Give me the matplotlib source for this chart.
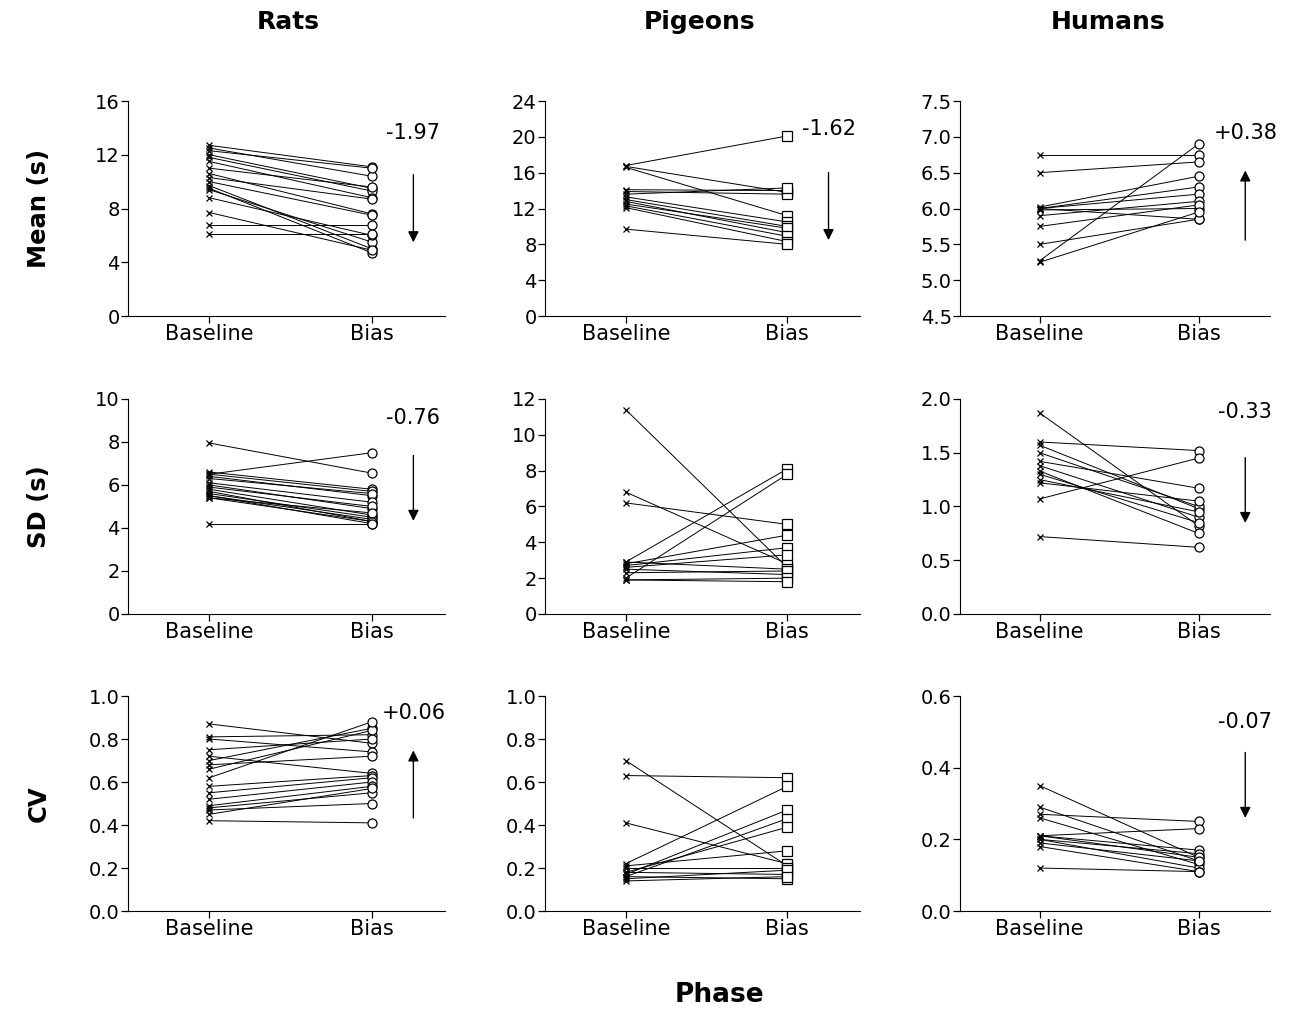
import matplotlib
matplotlib.use("Agg")
import matplotlib.pyplot as plt
import numpy as np

phases = ["Baseline", "Bias"]
species = ["Rats", "Pigeons", "Humans"]
measures = ["Mean (s)", "SD (s)", "CV"]

# Rats
rats_mean_base = [12.7, 12.5, 12.3, 12.0, 11.8, 11.5, 11.0, 10.6, 10.3, 10.0, 9.7, 9.5, 9.4, 8.8, 7.7, 6.8, 6.1]
rats_mean_bias = [11.1, 10.4, 11.0, 9.5, 9.3, 8.8, 9.6, 7.6, 8.7, 7.5, 5.0, 4.7, 5.5, 6.0, 4.9, 6.8, 6.1]
rats_sd_base = [7.95, 6.5, 6.6, 6.5, 6.4, 6.3, 6.1, 6.0, 5.9, 5.8, 5.7, 5.6, 5.5, 5.5, 5.4, 5.4, 4.2]
rats_sd_bias = [6.55, 7.5, 5.8, 5.7, 5.5, 5.6, 5.2, 4.9, 5.0, 4.6, 4.3, 4.5, 4.2, 4.4, 4.7, 4.3, 4.2]
rats_cv_base = [0.87, 0.81, 0.80, 0.75, 0.72, 0.70, 0.68, 0.66, 0.62, 0.58, 0.55, 0.52, 0.49, 0.48, 0.47, 0.45, 0.42]
rats_cv_bias = [0.78, 0.82, 0.74, 0.80, 0.64, 0.85, 0.72, 0.84, 0.88, 0.63, 0.62, 0.60, 0.58, 0.55, 0.50, 0.57, 0.41]

# Pigeons
pig_mean_base = [16.8, 16.7, 16.6, 14.1, 13.9, 13.6, 13.3, 13.0, 12.8, 12.5, 12.3, 12.1, 9.7]
pig_mean_bias = [20.1, 13.8, 11.2, 14.0, 13.6, 14.3, 10.5, 10.0, 9.3, 9.8, 8.9, 8.3, 8.0]
pig_sd_base = [11.4, 6.8, 6.2, 2.9, 2.0, 2.8, 2.7, 2.6, 2.9, 2.5, 2.3, 1.9, 1.9]
pig_sd_bias = [2.6, 2.8, 5.0, 8.1, 7.8, 4.4, 3.7, 3.3, 2.5, 2.2, 2.4, 2.0, 1.8]
pig_cv_base = [0.70, 0.63, 0.41, 0.22, 0.17, 0.16, 0.18, 0.21, 0.20, 0.18, 0.15, 0.16, 0.14]
pig_cv_bias = [0.21, 0.62, 0.22, 0.58, 0.47, 0.43, 0.39, 0.28, 0.20, 0.17, 0.19, 0.15, 0.16]

# Humans
hum_mean_base = [6.75, 6.5, 6.02, 6.0, 6.0, 5.98, 6.0, 5.9, 5.75, 5.5, 5.27, 5.25]
hum_mean_bias = [6.75, 6.65, 6.45, 6.3, 6.2, 6.0, 5.85, 6.1, 6.05, 5.85, 6.9, 5.95]
hum_sd_base = [1.87, 1.6, 1.57, 1.5, 1.42, 1.38, 1.33, 1.3, 1.25, 1.22, 1.07, 0.72]
hum_sd_bias = [0.82, 1.52, 0.98, 1.0, 1.17, 0.9, 0.75, 0.85, 0.95, 1.05, 1.45, 0.62]
hum_cv_base = [0.35, 0.29, 0.27, 0.26, 0.21, 0.21, 0.20, 0.21, 0.20, 0.19, 0.18, 0.12]
hum_cv_bias = [0.15, 0.14, 0.25, 0.13, 0.23, 0.17, 0.16, 0.15, 0.12, 0.14, 0.11, 0.11]

changes = {
    (0, 0): "-1.97", (0, 1): "-1.62", (0, 2): "+0.38",
    (1, 0): "-0.76", (1, 2): "-0.33",
    (2, 0): "+0.06", (2, 2): "-0.07",
}

data = [
    [(rats_mean_base, rats_mean_bias), (pig_mean_base, pig_mean_bias), (hum_mean_base, hum_mean_bias)],
    [(rats_sd_base, rats_sd_bias), (pig_sd_base, pig_sd_bias), (hum_sd_base, hum_sd_bias)],
    [(rats_cv_base, rats_cv_bias), (pig_cv_base, pig_cv_bias), (hum_cv_base, hum_cv_bias)],
]

yticks = [
    [np.arange(0, 17, 4), np.arange(0, 25, 4), np.arange(4.5, 7.51, 0.5)],
    [np.arange(0, 11, 2), np.arange(0, 13, 2), np.arange(0, 2.01, 0.5)],
    [np.arange(0, 1.01, 0.2), np.arange(0, 1.01, 0.2), np.arange(0, 0.61, 0.2)],
]
yfmt = [["{:.0f}", "{:.0f}", "{:.1f}"], ["{:.0f}", "{:.0f}", "{:.1f}"], ["{:.1f}", "{:.1f}", "{:.1f}"]]
bias_markers = ["o", "s", "o"]

# layout (figure fractions)
lefts = [0.0993, 0.4228, 0.7448]
widths = [0.246, 0.2444, 0.2405]
bottoms = [0.6868, 0.3915, 0.0971]
height = 0.2131

# annotation placement in axes fractions: (text_y, arrow_y_start, arrow_y_end)
ann_pos = {
    (0, 0): (0.85, 0.67, 0.33), (0, 1): (0.87, 0.68, 0.34), (0, 2): (0.85, 0.34, 0.69),
    (1, 0): (0.91, 0.75, 0.42), (1, 2): (0.94, 0.74, 0.41),
    (2, 0): (0.92, 0.42, 0.76), (2, 2): (0.88, 0.75, 0.42),
}

fig = plt.figure(figsize=(12.89, 10.09), dpi=100)
fsy = 14
fsx = 15
for r in range(3):
    for c in range(3):
        ax = fig.add_axes([lefts[c], bottoms[r], widths[c], height])
        base, bias = data[r][c]
        for b, a in zip(base, bias):
            ax.plot([0, 1], [b, a], color="black", lw=0.7, zorder=1)
        ax.plot(np.zeros(len(base)), base, linestyle="none", marker="x", ms=5,
                mec="black", mew=0.9, zorder=2)
        ax.plot(np.ones(len(bias)), bias, linestyle="none", marker=bias_markers[c], ms=6.5,
                mfc="white", mec="black", mew=0.9, zorder=2)
        ax.set_xlim(-0.5, 1.45)
        yt = yticks[r][c]
        ax.set_ylim(yt[0], yt[-1])
        ax.set_yticks(yt)
        ax.set_yticklabels([yfmt[r][c].format(v) for v in yt], fontsize=fsy)
        ax.set_xticks([0, 1])
        ax.set_xticklabels(phases, fontsize=fsx)
        for s in ["top", "right"]:
            ax.spines[s].set_visible(False)
        ax.tick_params(direction="out", length=5, width=0.9, pad=1)
        if (r, c) in changes:
            ty, y0, y1 = ann_pos[(r, c)]
            xf = 0.9 if c < 2 else 0.92
            ax.text(xf, ty, changes[(r, c)], transform=ax.transAxes, ha="center",
                    va="center", fontsize=15)
            ax.annotate("", xy=(xf, y1), xytext=(xf, y0), xycoords="axes fraction",
                        textcoords="axes fraction",
                        arrowprops=dict(arrowstyle="-|>", color="black", lw=1.0,
                                        mutation_scale=16))

title_x = [0.2235, 0.543, 0.86]
for c, name in enumerate(species):
    fig.text(title_x[c], 0.978, name, ha="center", va="center",
             fontsize=18, fontweight="bold")
row_centers = [bottoms[r] + height / 2 for r in range(3)]
for r, name in enumerate(measures):
    fig.text(0.03, row_centers[r], name, rotation=90, ha="center", va="center",
             fontsize=17.5, fontweight="bold")
fig.text(0.558, 0.014, "Phase", ha="center", va="center", fontsize=19, fontweight="bold")

fig.savefig("out.png", dpi=100)
